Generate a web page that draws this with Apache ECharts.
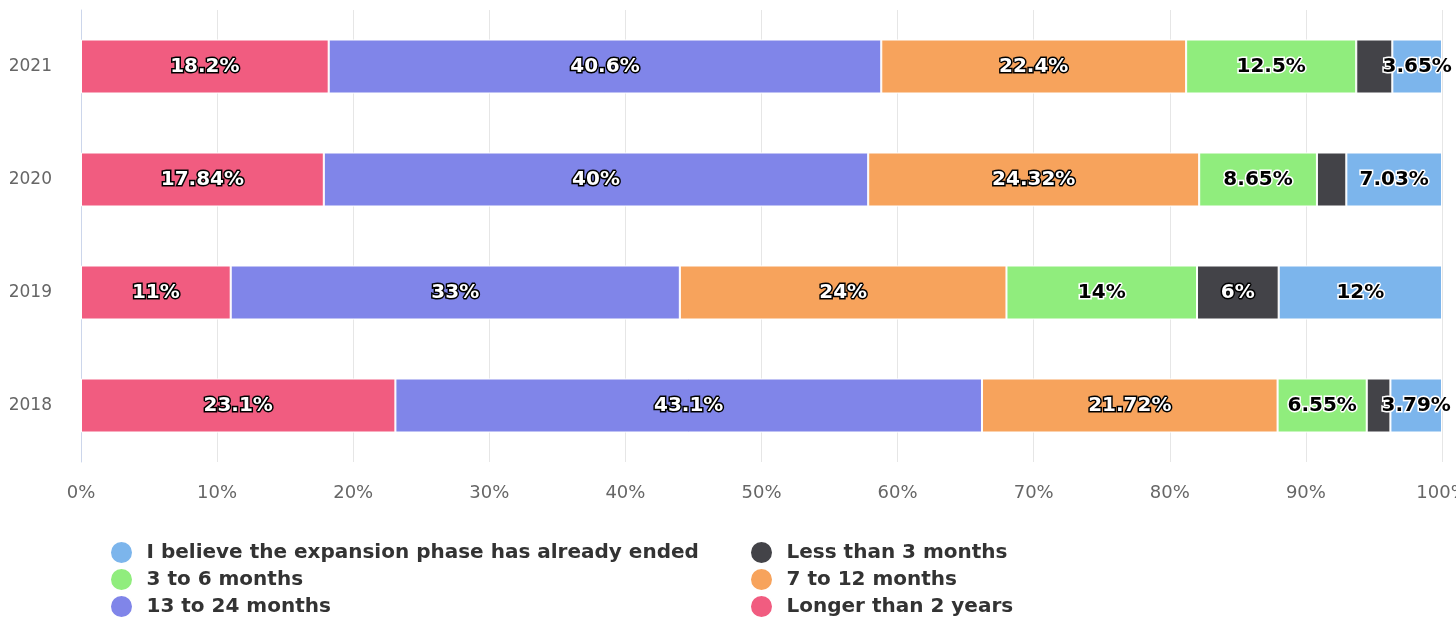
<!DOCTYPE html>
<html><head><meta charset="utf-8">
<script src="https://cdn.jsdelivr.net/npm/echarts@6/dist/echarts.min.js"></script>
<style>html,body{margin:0;padding:0;background:#fff}#c{width:1456px;height:617px}</style>
</head><body><div id="c"></div>
<script>
const categories = ['2018', '2019', '2020', '2021'];
const xTicks = [0, 10, 20, 30, 40, 50, 60, 70, 80, 90, 100];
const longerThan2Years = [23.1, 11, 17.84, 18.2];
const m13to24 = [43.1, 33, 40, 40.6];
const m7to12 = [21.72, 24, 24.32, 22.4];
const m3to6 = [6.55, 14, 8.65, 12.5];
const lessThan3 = [1.74, 6, 2.16, 2.65];
const alreadyEnded = [3.79, 12, 7.03, 3.65];

const FONT = 'DejaVu Sans';
function lbl(dark) {
  return {
    show: true, position: 'inside', fontFamily: FONT, fontWeight: 'bold', fontSize: 20,
    color: dark ? '#ffffff' : '#000000',
    textBorderColor: dark ? '#000000' : '#ffffff', textBorderWidth: 3,
    formatter: p => (p.value < 3 ? '' : p.value + '%')
  };
}
function ser(name, data, color, dark) {
  return {
    name, type: 'bar', stack: 'total', data, barWidth: 54,
    itemStyle: { color, borderColor: '#ffffff', borderWidth: 1 },
    label: lbl(dark), emphasis: { disabled: true }
  };
}
const legendItems = [
  ['I believe the expansion phase has already ended', 104, 535],
  ['3 to 6 months', 104, 562],
  ['13 to 24 months', 104, 589],
  ['Less than 3 months', 744, 535],
  ['7 to 12 months', 744, 562],
  ['Longer than 2 years', 744, 589]
];
const chart = echarts.init(document.getElementById('c'));
chart.setOption({
  animation: false,
  grid: { left: 81, right: 14, top: 10, bottom: 155, outerBoundsMode: 'none', containLabel: false },
  legend: legendItems.map(([name, left, top]) => ({
    left, top, itemWidth: 40, itemHeight: 23, icon: 'circle', selectedMode: false,
    textStyle: { fontFamily: FONT, fontWeight: 'bold', fontSize: 20, color: '#333333' },
    data: [name]
  })),
  xAxis: {
    type: 'value', min: 0, max: 100, interval: 10,
    axisLine: { show: false }, axisTick: { show: false },
    splitLine: { lineStyle: { color: '#e6e6e6', width: 1 } },
    axisLabel: { fontFamily: FONT, fontSize: 18, color: '#666666', margin: 22, formatter: v => v + '%' }
  },
  yAxis: {
    type: 'category', data: categories,
    axisLine: { lineStyle: { color: '#ccd6eb' } }, axisTick: { show: false },
    axisLabel: { fontFamily: FONT, fontSize: 17, color: '#666666', margin: 29 }
  },
  series: [
    ser('Longer than 2 years', longerThan2Years, '#f15c80', true),
    ser('13 to 24 months', m13to24, '#8085e9', true),
    ser('7 to 12 months', m7to12, '#f7a35c', true),
    ser('3 to 6 months', m3to6, '#90ed7d', false),
    ser('Less than 3 months', lessThan3, '#434348', true),
    ser('I believe the expansion phase has already ended', alreadyEnded, '#7cb5ec', false)
  ]
});
</script></body></html>
